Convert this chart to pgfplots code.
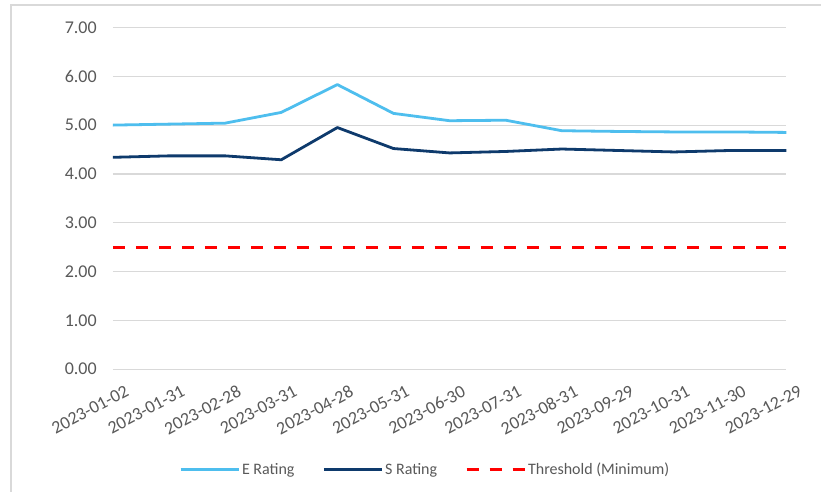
\documentclass[border=0pt]{standalone}
\usepackage{pgfplots}
\pgfplotsset{compat=1.18}
\usepackage{fontspec}
\setmainfont{Carlito}
\definecolor{eblue}{HTML}{4EBEEE}
\definecolor{snavy}{HTML}{0E3A6C}
\definecolor{tgray}{HTML}{595959}
\definecolor{ggray}{HTML}{D9D9D9}
\begin{document}
\begin{tikzpicture}
\path[fill=white] (0pt,0pt) rectangle (822pt,-492pt);
\draw[ggray, line width=1.5pt] (11pt,-492pt) -- (11pt,-5pt) -- (822pt,-5pt);
\begin{axis}[
  at={(113pt,-369.5pt)}, anchor=south west,
  scale only axis, width=674pt, height=342pt,
  xmin=0, xmax=12, ymin=0, ymax=7,
  xtick={0,...,12},
  xticklabels={2023-01-02,2023-01-31,2023-02-28,2023-03-31,2023-04-28,2023-05-31,2023-06-30,2023-07-31,2023-08-31,2023-09-29,2023-10-31,2023-11-30,2023-12-29},
  ytick={0,...,7},
  yticklabels={0.00,1.00,2.00,3.00,4.00,5.00,6.00,7.00},
  ymajorgrids, grid style={ggray, line width=1.2pt},
  axis line style={draw=none},
  major tick length=0pt, tick style={draw=none},
  clip=false,
  tick label style={font=\fontsize{18}{20}\selectfont, text=tgray},
  x tick label style={rotate=28, anchor=north east, inner sep=0pt, yshift=-19pt, xshift=3pt},
  y tick label style={anchor=east, inner sep=0pt, xshift=-16pt},
  legend columns=3,
  legend style={at={(0.464,-0.293)}, anchor=center, draw=none, fill=none,
    font=\fontsize{16}{18}\selectfont, text=tgray,
    /tikz/every even column/.append style={column sep=26pt}},
  legend image code/.code={\draw[#1] (0pt,0pt) -- (58pt,0pt);},
]
\addplot[eblue, line width=2.8pt, line join=round] coordinates {
(0,5.00) (1,5.02) (2,5.04) (3,5.26) (4,5.83) (5,5.24) (6,5.09) (7,5.10) (8,4.885) (9,4.87) (10,4.86) (11,4.86) (12,4.85)};
\addlegendentry{E Rating}
\addplot[snavy, line width=2.8pt, line join=round] coordinates {
(0,4.34) (1,4.37) (2,4.37) (3,4.29) (4,4.95) (5,4.52) (6,4.43) (7,4.46) (8,4.51) (9,4.48) (10,4.45) (11,4.48) (12,4.48)};
\addlegendentry{S Rating}
\addplot[red, line width=3pt, dash pattern=on 12pt off 11pt] coordinates {
(0,2.5) (1,2.5) (2,2.5) (3,2.5) (4,2.5) (5,2.5) (6,2.5) (7,2.5) (8,2.5) (9,2.5) (10,2.5) (11,2.5) (12,2.5)};
\addlegendentry{Threshold (Minimum)}
\end{axis}
\end{tikzpicture}
\end{document}
